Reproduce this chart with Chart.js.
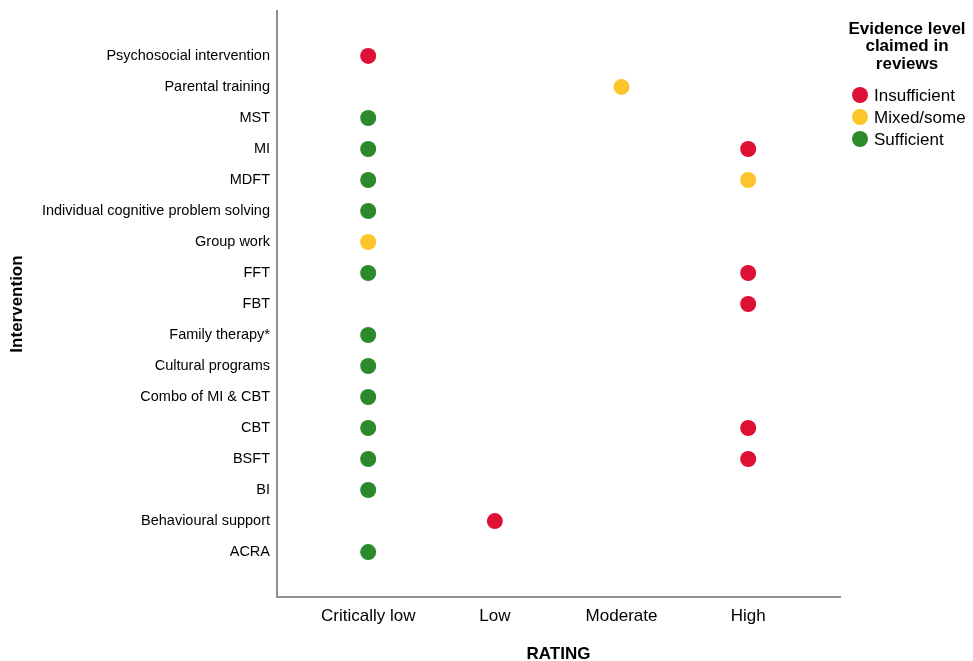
<html>
<head>
<title>Intervention rating</title>
<script src="https://cdn.jsdelivr.net/npm/chart.js@4.4.1/dist/chart.umd.min.js"></script>
<style type="text/css">
  body { margin: 0; background: #fff; }
  #wrap { width: 973px; height: 661px; }
</style>
</head>
<body>

<div id="wrap">
  <canvas id="chart" width="973" height="661"></canvas>
</div>

<script>
// categories, top to bottom
var interventions = ['Psychosocial intervention', 'Parental training', 'MST', 'MI', 'MDFT',
  'Individual cognitive problem solving', 'Group work', 'FFT', 'FBT', 'Family therapy*',
  'Cultural programs', 'Combo of MI & CBT', 'CBT', 'BSFT', 'BI', 'Behavioural support', 'ACRA'];
var ratings = ['Critically low', 'Low', 'Moderate', 'High'];

// [intervention, rating] per evidence level
var insufficient = [
  ['Psychosocial intervention', 'Critically low'],
  ['MI', 'High'],
  ['FFT', 'High'],
  ['FBT', 'High'],
  ['CBT', 'High'],
  ['BSFT', 'High'],
  ['Behavioural support', 'Low']
];
var mixedSome = [
  ['Parental training', 'Moderate'],
  ['MDFT', 'High'],
  ['Group work', 'Critically low']
];
var sufficient = [
  ['MST', 'Critically low'],
  ['MI', 'Critically low'],
  ['MDFT', 'Critically low'],
  ['Individual cognitive problem solving', 'Critically low'],
  ['FFT', 'Critically low'],
  ['Family therapy*', 'Critically low'],
  ['Cultural programs', 'Critically low'],
  ['Combo of MI & CBT', 'Critically low'],
  ['CBT', 'Critically low'],
  ['BSFT', 'Critically low'],
  ['BI', 'Critically low'],
  ['ACRA', 'Critically low']
];

var legendTitle = ['Evidence level', 'claimed in', 'reviews'];
var FONT = "'Liberation Sans', Arial, sans-serif";

function toPoints(list) {
  return list.map(function (p) {
    return { x: ratings.indexOf(p[1]), y: interventions.indexOf(p[0]) };
  });
}

function makeSet(label, list, color) {
  return {
    label: label,
    data: toPoints(list),
    backgroundColor: color,
    borderColor: color,
    borderWidth: 0,
    pointRadius: 8,
    pointHoverRadius: 8
  };
}

// legend drawn at the right from the datasets
var sideLegend = {
  id: 'sideLegend',
  afterDraw: function (chart) {
    var ctx = chart.ctx;
    ctx.save();
    ctx.fillStyle = '#000';
    ctx.font = 'bold 17px ' + FONT;
    ctx.textAlign = 'center';
    ctx.textBaseline = 'middle';
    legendTitle.forEach(function (t, i) {
      ctx.fillText(t, 907, 29 + i * 17.5);
    });
    ctx.font = '17px ' + FONT;
    ctx.textAlign = 'left';
    chart.data.datasets.forEach(function (ds, i) {
      var y = 95 + i * 22;
      ctx.beginPath();
      ctx.fillStyle = ds.backgroundColor;
      ctx.arc(860, y, 8, 0, Math.PI * 2);
      ctx.fill();
      ctx.fillStyle = '#000';
      ctx.fillText(ds.label, 874, y + 1);
    });
    ctx.restore();
  }
};

var ctx = document.getElementById('chart').getContext('2d');
var myChart = new Chart(ctx, {
  type: 'scatter',
  data: {
    datasets: [
      makeSet('Insufficient', insufficient, '#de1034'),
      makeSet('Mixed/some', mixedSome, '#fdc42b'),
      makeSet('Sufficient', sufficient, '#2b8a2b')
    ]
  },
  options: {
    responsive: false,
    animation: false,
    layout: { padding: { top: 11, right: 133, bottom: 0, left: 0 } },
    plugins: {
      legend: { display: false },
      tooltip: { enabled: false }
    },
    scales: {
      x: {
        type: 'linear',
        min: -0.72,
        max: 3.725,
        afterBuildTicks: function (scale) {
          scale.ticks = ratings.map(function (r, i) { return { value: i }; });
        },
        afterFit: function (scale) { scale.height = 64; },
        grid: { display: false, drawTicks: false },
        border: { display: true, color: '#8f8f8f', width: 2 },
        ticks: {
          padding: 9,
          color: '#000',
          maxRotation: 0,
          autoSkip: false,
          font: { family: FONT, size: 17 },
          callback: function (v) { return ratings[v]; }
        },
        title: {
          display: true,
          text: 'RATING',
          color: '#000',
          font: { family: FONT, size: 17, weight: 'bold', lineHeight: 0.8 },
          padding: { top: 0, bottom: 0 }
        }
      },
      y: {
        type: 'linear',
        reverse: true,
        min: -1.45,
        max: 17.45,
        afterBuildTicks: function (scale) {
          scale.ticks = interventions.map(function (c, i) { return { value: i }; });
        },
        afterFit: function (scale) {
          scale.width = 277;
          scale.paddingTop = 0;
          scale.paddingBottom = 0;
        },
        grid: { display: false, drawTicks: false },
        border: { display: true, color: '#8f8f8f', width: 2 },
        ticks: {
          padding: 7,
          color: '#000',
          autoSkip: false,
          font: { family: FONT, size: 14.5 },
          callback: function (v) { return interventions[v]; }
        },
        title: {
          display: true,
          text: 'Intervention',
          color: '#000',
          font: { family: FONT, size: 17, weight: 'bold', lineHeight: 1 },
          padding: { top: 9, bottom: 0 }
        }
      }
    }
  },
  plugins: [sideLegend]
});
</script>

</body>
</html>
